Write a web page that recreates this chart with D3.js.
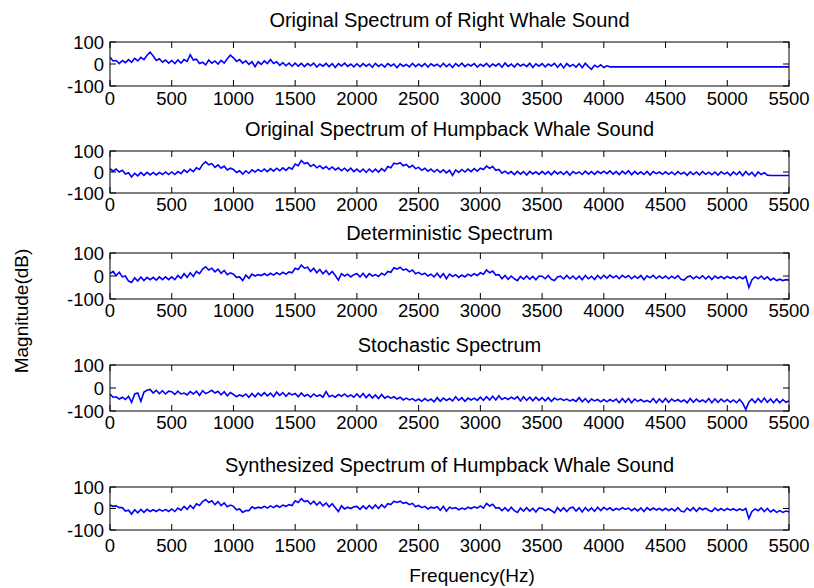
<!DOCTYPE html>
<html>
<head>
<meta charset="utf-8">
<script src="https://cdn.jsdelivr.net/npm/d3@7"></script>
<style>
    body { margin: 0; background: white; }
    text { font-family: Arial, 'Liberation Sans', sans-serif; fill: #000; }
</style>
</head>
<body>
<div id="chart"></div>
<script>
const titles = [
    'Original Spectrum of Right Whale Sound',
    'Original Spectrum of Humpback Whale Sound',
    'Deterministic Spectrum',
    'Stochastic Spectrum',
    'Synthesized Spectrum of Humpback Whale Sound'
];

const xTicks = [0, 500, 1000, 1500, 2000, 2500, 3000, 3500, 4000, 4500, 5000, 5500];
const yTicks = [-100, 0, 100];
const freqStep = 25;   // Hz between samples, 0 .. 5500

// magnitudes in dB, one value every 25 Hz (one row = 500 Hz)
const rightWhale = [
    30, 14, 16, 2, 16, 6, 20, 8, 26, 14, 30, 20, 40, 54, 36, 16, 24, 8, 18, 4,
    16, 2, 18, 4, 20, 12, 42, 18, 22, 2, 8, -4, 18, 4, 14, 0, 16, 4, 24, 40,
    28, 12, 20, 4, 14, -2, 10, -12, 10, -2, 14, 2, 20, 2, 10, -6, 6, -8, 4, -10,
    4, -10, 3, -12, 2, -8, 4, -14, 0, -10, 3, -12, 1, -16, 2, -9, 4, -11, 0, -13,
    1, -12, 2, -10, 0, -15, 3, -11, -1, -14, 2, -9, 0, -17, 1, -10, -2, -13, 3, -12,
    0, -11, 2, -14, 1, -9, -1, -13, 3, -12, 0, -16, 2, -10, 4, -12, -1, -9, 2, -14,
    -1, -10, 3, -13, 0, -9, 2, -15, 4, -11, 0, -14, 2, -9, -1, -12, 3, -16, 1, -10,
    2, -13, 0, -9, 3, -15, 1, -18, 2, -11, -2, -14, 1, -17, 3, -12, -24, -6, -14, -4,
    -16, -8, -13, -13, -13, -13, -13, -13, -13, -13, -13, -13, -13, -13, -13, -13, -13, -13, -13, -13,
    -13, -13, -13, -13, -13, -13, -13, -13, -13, -13, -13, -13, -13, -13, -13, -13, -13, -13, -13, -13,
    -13, -13, -13, -13, -13, -13, -13, -13, -13, -13, -13, -13, -13, -13, -13, -13, -13, -13, -13, -13,
    -13
];

const humpback = [
    16, 4, 14, 0, 8, -10, -4, -24, -6, -18, -2, -16, -2, -14, -2, -14, -2, -12, 0, -12,
    0, -12, 2, -8, 10, -2, 14, 2, 20, 12, 36, 48, 34, 40, 22, 34, 18, 28, 10, 18,
    12, -2, 6, -10, 6, -6, 10, 0, 12, 2, 14, 2, 16, 4, 18, 6, 20, 8, 22, 14,
    38, 30, 55, 40, 44, 26, 36, 20, 30, 16, 26, 12, 24, 10, 20, 6, 18, 4, 18, 2,
    14, 0, 14, -2, 14, 0, 14, 0, 16, 4, 26, 20, 42, 38, 44, 30, 36, 22, 32, 16,
    22, 8, 18, 4, 14, 0, 12, -2, 10, -4, 8, -16, 10, -2, 12, 0, 14, 2, 16, 4,
    18, 12, 28, 18, 26, 8, 12, -6, 4, -8, 2, -12, 3, -10, 2, -14, 3, -9, 1, -11,
    3, -10, 2, -13, 4, -9, 1, -12, 3, -15, 2, -8, 0, -12, 4, -10, 2, -11, 3, -7,
    4, -8, 5, -10, 2, -12, 4, -9, 6, -13, 3, -10, 1, -12, 3, -14, 2, -8, 0, -11,
    1, -11, 0, -13, 2, -10, -1, -16, 1, -12, 0, -14, 2, -11, -1, -13, 0, -15, 1, -10,
    -1, -17, 0, -13, 1, -18, 2, -14, -2, -20, 0, -12, -3, -15, -17, -17, -17, -17, -17, -17,
    -17
];

const deterministic = [
    10, 20, 2, 16, -4, 0, -22, -28, -8, -22, -4, -20, -6, -16, -6, -18, -4, -16, -4, -16,
    -4, -16, 2, -10, 10, -6, 14, -2, 20, 10, 30, 40, 26, 34, 18, 30, 12, 24, 6, 14,
    8, -6, -4, -20, 4, -10, 8, 0, 6, 2, 10, 2, 12, 4, 14, 6, 16, 8, 18, 14,
    34, 28, 48, 34, 38, 20, 34, 14, 28, 10, 24, 6, 20, 2, -18, 10, 0, 8, -4, 6,
    10, -4, 12, -6, 10, 0, 6, -2, 12, 4, 20, 16, 36, 30, 38, 26, 30, 18, 26, 10,
    16, 6, 12, 0, 8, -4, 12, -6, 10, -12, 8, -2, 6, -6, 4, -4, 8, 0, 10, 2,
    14, 8, 26, 14, 22, 4, 6, -12, 2, -14, 0, -12, -20, -2, -14, 0, -14, -2, -16, 0,
    -1, -12, 2, -14, -20, -4, -1, -13, 2, -12, 0, -14, -1, -16, 2, -12, -1, -15, 2, -11,
    3, -9, 4, -8, 1, -11, 3, -7, 2, -12, 0, -10, 2, -16, 1, -8, 3, -11, 0, -10,
    0, -12, -1, -10, 2, -14, -18, -4, 0, -12, -2, -11, 1, -13, -1, -15, 0, -10, -2, -12,
    -2, -10, -3, -12, -4, -12, -2, -50, -16, -4, -12, 0, -14, -4, -18, -10, -20, -14, -20, -16,
    -18
];

const stochastic = [
    -26, -40, -38, -48, -40, -50, -36, -62, -26, -22, -58, -18, -10, -6, -22, -10, -24, -12, -26, -14,
    -16, -28, -14, -26, -22, -30, -16, -26, -14, -32, -12, -24, -18, -10, -22, -14, -30, -16, -34, -20,
    -28, -38, -30, -36, -26, -40, -24, -38, -22, -34, -20, -34, -22, -38, -18, -32, -20, -36, -22, -30,
    -24, -38, -22, -36, -28, -40, -26, -36, -30, -40, -16, -38, -32, -40, -28, -36, -26, -38, -30, -40,
    -26, -40, -24, -42, -28, -44, -30, -46, -28, -44, -36, -44, -38, -48, -40, -52, -44, -52, -46, -56,
    -48, -58, -46, -56, -48, -60, -42, -58, -44, -54, -46, -56, -38, -54, -42, -58, -44, -52, -44, -54,
    -40, -54, -38, -52, -36, -52, -34, -50, -42, -50, -40, -48, -38, -56, -38, -54, -40, -56, -40, -54,
    -42, -56, -42, -58, -44, -52, -46, -54, -48, -56, -50, -58, -42, -60, -46, -62, -48, -56, -50, -60,
    -50, -60, -50, -58, -48, -64, -46, -62, -46, -64, -48, -58, -50, -60, -54, -62, -46, -64, -48, -62,
    -46, -62, -48, -58, -50, -60, -52, -64, -46, -62, -48, -60, -52, -62, -46, -64, -48, -62, -48, -60,
    -50, -62, -52, -64, -50, -66, -94, -62, -48, -64, -46, -62, -44, -62, -48, -64, -48, -64, -50, -62,
    -56
];

const synthesized = [
    16, 10, 12, 4, 4, -12, -8, -26, -6, -20, -4, -18, -4, -14, -6, -14, -4, -12, -4, -14,
    -2, -14, 2, -8, 10, -4, 14, 0, 22, 14, 32, 42, 28, 36, 18, 32, 14, 26, 8, 16,
    10, -6, -2, -18, -10, -10, 8, 0, 6, 2, 10, 2, 12, 4, 14, 6, 16, 10, 18, 14,
    36, 28, 46, 32, 36, 20, 34, 16, 30, 12, 26, 8, 22, 4, -14, 12, -2, 6, 0, 8,
    10, -4, 12, -2, 14, 0, 16, 0, 18, 4, 22, 18, 34, 28, 34, 24, 28, 18, 24, 8,
    14, 4, 10, -2, 6, 2, 8, -8, 10, -12, 6, 0, 4, -6, 2, -4, 6, 0, 8, 2,
    12, 2, 24, 12, 20, 2, 4, -10, 4, -12, 6, -10, -18, 2, -12, 4, -12, 1, -16, 2,
    1, -10, -1, -9, -20, 4, -12, 4, -14, 2, 6, -12, 3, -16, 4, -11, 3, -13, 6, -10,
    5, -6, 3, -9, 0, -6, 4, -4, 2, -10, 1, -11, 3, -14, 4, -8, 2, -7, 0, -9,
    1, -9, -1, -11, 4, -12, -16, 2, -10, 4, -13, 3, -6, 1, -8, -14, 2, -9, 0, -10,
    0, -8, -1, -10, -2, -9, 0, -46, -14, -2, -10, 3, -14, 0, -16, -6, -18, -10, -18, -12,
    -15
];

const series = [rightWhale, humpback, deterministic, stochastic, synthesized];

function draw() {
    const width = 814, height = 588;
    const left = 110, right = 789;
    // measured boxes of the five stacked axes
    const panels = [
        { top: 42, bottom: 86, titleY: 20, labelOff: 12 },
        { top: 151, bottom: 193, titleY: 129, labelOff: 11 },
        { top: 253, bottom: 299, titleY: 233, labelOff: 11 },
        { top: 365, bottom: 411, titleY: 345, labelOff: 11 },
        { top: 487, bottom: 530, titleY: 465, labelOff: 15 }
    ];
    const tickFont = 18.5, titleFont = 20, labelFont = 19;
    const tickLen = 6;

    const svg = d3.select('#chart').append('svg')
                  .attr('width', width)
                  .attr('height', height);

    const scaleX = d3.scaleLinear()
                     .domain([0, 5500])
                     .range([left, right]);

    panels.forEach((p, k) => {
        const scaleY = d3.scaleLinear()
                         .domain([-100, 100])
                         .range([p.bottom, p.top]);

        const g = svg.append('g');

        g.append('clipPath')
            .attr('id', 'clip' + k)
            .append('rect')
                .attr('x', left)
                .attr('y', p.top)
                .attr('width', right - left)
                .attr('height', p.bottom - p.top);

        const line = d3.line()
                       .x((d, i) => scaleX(i * freqStep))
                       .y(d => scaleY(d));

        g.append('path')
            .datum(series[k])
            .attr('clip-path', 'url(#clip' + k + ')')
            .attr('d', line)
            .style('fill', 'none')
            .style('stroke', '#0000ff')
            .style('stroke-width', 1.6)
            .style('stroke-linejoin', 'miter');

        // box
        g.append('rect')
            .attr('x', left)
            .attr('y', p.top)
            .attr('width', right - left)
            .attr('height', p.bottom - p.top)
            .style('fill', 'none')
            .style('stroke', '#000')
            .style('stroke-width', 1);

        // inward ticks on all four sides
        const tickPath = xTicks.map(t => {
            const x = scaleX(t);
            return 'M' + x + ',' + p.bottom + 'v' + (-tickLen) +
                   'M' + x + ',' + p.top + 'v' + tickLen;
        }).join('') + yTicks.map(t => {
            const y = scaleY(t);
            return 'M' + left + ',' + y + 'h' + tickLen +
                   'M' + right + ',' + y + 'h' + (-tickLen);
        }).join('');

        g.append('path')
            .attr('d', tickPath)
            .style('fill', 'none')
            .style('stroke', '#000')
            .style('stroke-width', 1);

        g.selectAll('text.xt')
            .data(xTicks)
            .enter()
            .append('text')
                .attr('class', 'xt')
                .attr('x', d => scaleX(d))
                .attr('y', p.bottom + p.labelOff + 0.36 * tickFont)
                .attr('text-anchor', 'middle')
                .style('font-size', tickFont + 'px')
                .text(d => d);

        g.selectAll('text.yt')
            .data(yTicks)
            .enter()
            .append('text')
                .attr('class', 'yt')
                .attr('x', left - 6)
                .attr('y', d => scaleY(d) + 0.36 * tickFont)
                .attr('text-anchor', 'end')
                .style('font-size', tickFont + 'px')
                .text(d => d);

        g.append('text')
            .attr('x', (left + right) / 2)
            .attr('y', p.titleY + 0.36 * titleFont)
            .attr('text-anchor', 'middle')
            .style('font-size', titleFont + 'px')
            .text(titles[k]);
    });

    svg.append('text')
        .attr('x', 472)
        .attr('y', 582)
        .attr('text-anchor', 'middle')
        .style('font-size', labelFont + 'px')
        .text('Frequency(Hz)');

    svg.append('text')
        .attr('transform', 'translate(28, 311) rotate(-90)')
        .attr('text-anchor', 'middle')
        .style('font-size', labelFont + 'px')
        .text('Magnitude(dB)');
}

draw();
</script>
</body>
</html>
